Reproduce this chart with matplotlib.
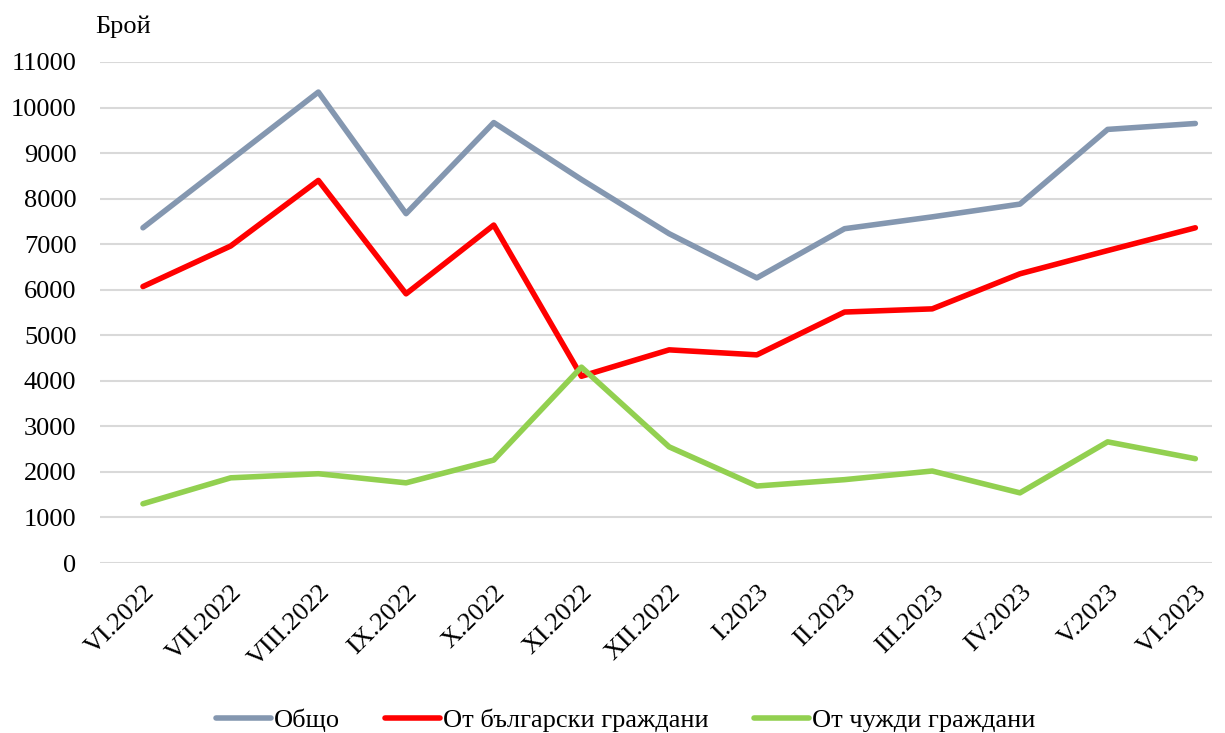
import matplotlib
matplotlib.use("Agg")
import matplotlib.pyplot as plt

plt.rcParams['font.family'] = ['Liberation Serif', 'DejaVu Serif']

# данни
months = ['VI.2022', 'VII.2022', 'VIII.2022', 'IX.2022', 'X.2022', 'XI.2022',
          'XII.2022', 'I.2023', 'II.2023', 'III.2023', 'IV.2023', 'V.2023', 'VI.2023']
total = [7360, 8850, 10340, 7670, 9670, 8420, 7230, 6260, 7340, 7600, 7880, 9520, 9650]
bulgarian = [6070, 6960, 8400, 5910, 7420, 4100, 4680, 4570, 5510, 5580, 6350, 6860, 7360]
foreign = [1300, 1870, 1960, 1760, 2260, 4300, 2550, 1690, 1830, 2020, 1540, 2660, 2290]

fig = plt.figure(figsize=(12.25, 7.33), dpi=100)
ax = fig.add_axes([100/1225, 1-563/733, (1212-100)/1225, (563-62)/733])

x = range(len(months))
ax.plot(x, total, color='#8497B0', lw=4, label='Общо', solid_capstyle='round')
ax.plot(x, bulgarian, color='#FF0000', lw=4, label='От български граждани', solid_capstyle='round')
ax.plot(x, foreign, color='#92D050', lw=4, label='От чужди граждани', solid_capstyle='round')

ax.set_ylim(0, 11000)
ax.set_yticks(range(0, 11001, 1000))
ax.set_xlim(-0.49, 12.19)
ax.set_xticks(list(x))
ax.set_xticklabels(months, rotation=45, ha='right', va='top', rotation_mode='anchor')
ax.tick_params(axis='both', length=0, labelsize=19)
ax.tick_params(axis='x', pad=13)
ax.tick_params(axis='y', pad=17)
ax.grid(axis='y', color='#D9D9D9', lw=1.5)
ax.set_axisbelow(True)
for s in ax.spines.values():
    s.set_visible(False)

fig.text(95/1225, 1-27/733, 'Брой', fontsize=19, va='center', ha='left')

fig.legend(loc='center', bbox_to_anchor=(0.5106, 1-720/733), ncol=3, frameon=False,
           fontsize=19, handlelength=2.1, handletextpad=0.1, columnspacing=1.7)

fig.savefig('out.png', dpi=100)
